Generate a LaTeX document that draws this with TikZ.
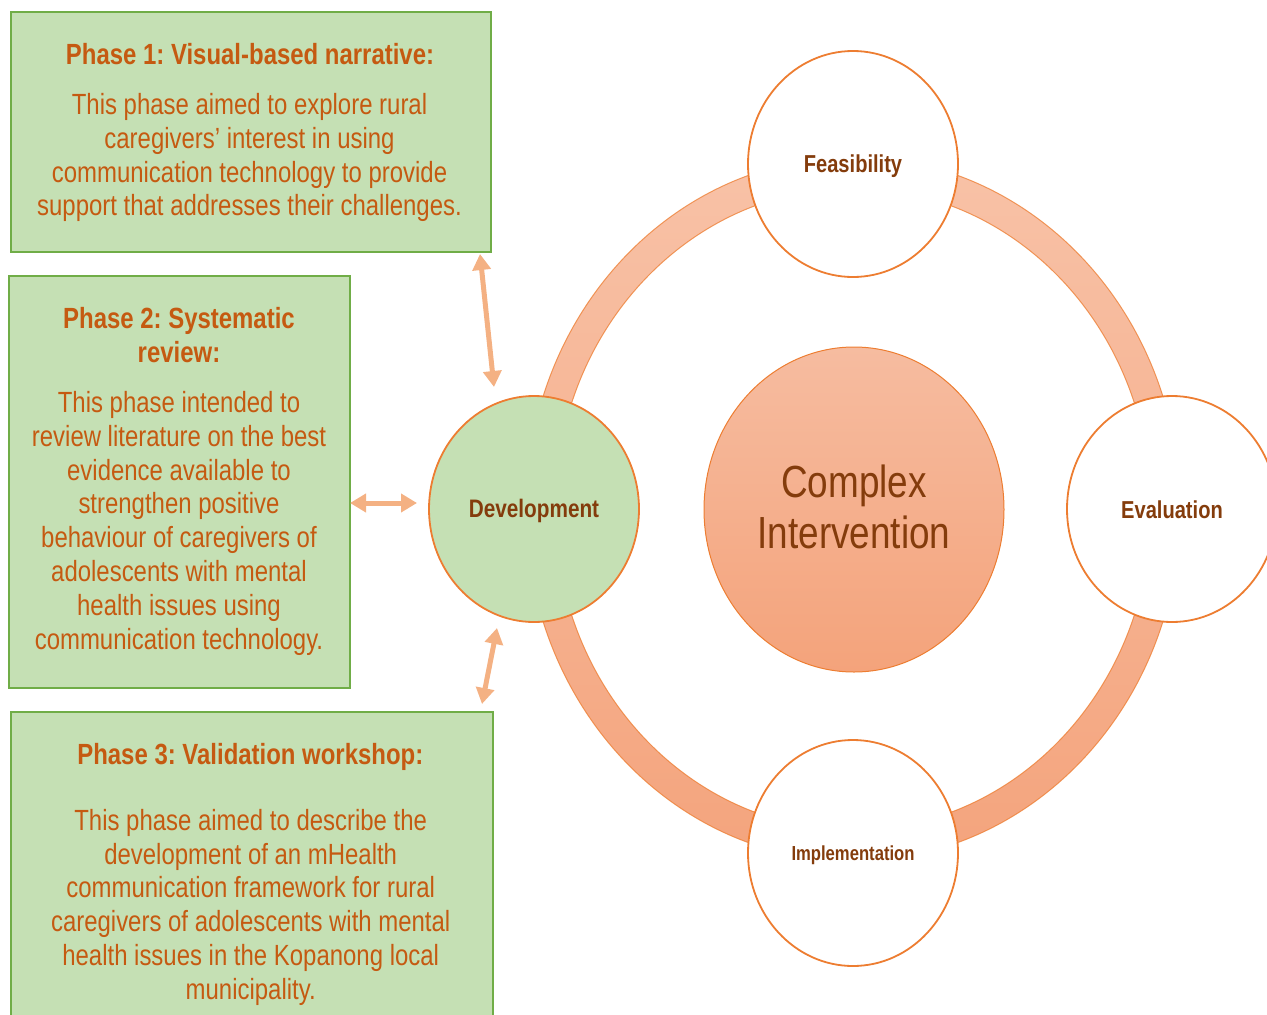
\documentclass[tikz,border=0pt]{standalone}
\usepackage{fontspec}
\setmainfont{Liberation Sans}[FakeStretch=0.82]
\usetikzlibrary{arrows.meta,shapes.geometric,calc}
\definecolor{boxgreen}{HTML}{C5E0B4}
\definecolor{boxedge}{HTML}{70AD47}
\definecolor{txtorange}{HTML}{C55A11}
\definecolor{txtbrown}{HTML}{843C0C}
\definecolor{ringedge}{HTML}{ED7D31}
\definecolor{arrowc}{HTML}{F4B183}
\definecolor{ringtop}{HTML}{F8C2A7}
\definecolor{ringbot}{HTML}{F4A47D}
\definecolor{coretop}{HTML}{F6BCA0}
\definecolor{corebot}{HTML}{F4A37B}
\frenchspacing
\begin{document}
\begin{tikzpicture}[x=1pt,y=-1pt,
  phasebox/.style={draw=boxedge, line width=1.5pt, fill=boxgreen, rectangle, inner sep=0pt, anchor=north west},
  headtxt/.style={text=txtorange, font=\frenchspacing\bfseries\fontsize{29.2}{34}\selectfont, align=center, inner sep=0pt},
  bodytxt/.style={text=txtorange, font=\frenchspacing\fontsize{29.2}{33.8}\selectfont, align=center, inner sep=0pt},
  stage/.style={ellipse, draw=ringedge, line width=1.8pt, fill=white, minimum width=210pt, minimum height=226pt, inner sep=0pt},
  stagelabel/.style={text=txtbrown, inner sep=0pt},
  link/.style={draw=arrowc, line width=5pt, {Triangle[length=16pt,width=18pt]}-{Triangle[length=16pt,width=18pt]}},
]
\path[use as bounding box, clip] (0,0) rectangle (1267,1015);

% phase boxes
\node[phasebox, minimum width=480pt, minimum height=240pt] (box1) at (10,11) {};
\node[phasebox, minimum width=341pt, minimum height=412pt] (box2) at (8,275) {};
\node[phasebox, minimum width=482pt, minimum height=330pt] (box3) at (10,711) {};

\node[headtxt] (h1) at (250,54.3) {Phase 1: Visual-based narrative:};
\node[bodytxt] (b1) at (249.5,157.6) {This phase aimed to explore rural\\caregivers’ interest in using\\communication technology to provide\\support that addresses their challenges.};

\node[headtxt] (h2) at (179,335.5) {Phase 2: Systematic\\review:};
\node[bodytxt] (b2) at (179,523.2) {This phase intended to\\review literature on the best\\evidence available to\\strengthen positive\\behaviour of caregivers of\\adolescents with mental\\health issues using\\communication technology.};

\node[headtxt] (h3) at (250.3,756.5) {Phase 3: Validation workshop:};
\node[bodytxt] (b3) at (250.7,907.2) {This phase aimed to describe the\\development of an mHealth\\communication framework for rural\\caregivers of adolescents with mental\\health issues in the Kopanong local\\municipality.};

% ring
\path[top color=ringtop, bottom color=ringbot, draw=ringedge, draw opacity=0.75, line width=1pt, even odd rule]
  (853,509) ellipse [x radius=327pt, y radius=352pt]
  (853,509) ellipse [x radius=298pt, y radius=321pt];

% stage circles
\node[stage] (feas) at (853,164) {};
\node[stage, fill=boxgreen] (dev) at (534,509) {};
\node[stage] (eval) at (1172,509) {};
\node[stage] (impl) at (853,853) {};
\node[stagelabel, font=\bfseries\fontsize{24.5}{28}\selectfont] (feasl) at ($(feas.center)+(0,2)$) {Feasibility};
\node[stagelabel, font=\bfseries\fontsize{25.3}{29}\selectfont] (devl) at ($(dev.center)+(0,2)$) {Development};
\node[stagelabel, font=\bfseries\fontsize{24.5}{28}\selectfont] (evall) at ($(eval.center)+(0,0.5)$) {Evaluation};
\node[stagelabel, font=\bfseries\fontsize{20.3}{24}\selectfont] (impll) at ($(impl.center)+(0,2)$) {Implementation};

\node[ellipse, minimum width=300pt, minimum height=325pt, inner sep=0pt, top color=coretop, bottom color=corebot, draw=ringedge, line width=1pt] (core) at (854,509.5) {};
\node[stagelabel, font=\fontsize{45}{51}\selectfont, align=center] (corel) at ($(core.center)+(0,-2.5)$) {Complex\\Intervention};

% arrows
\coordinate (a1s) at (480,254);
\coordinate (a1e) at (494,387);
\coordinate (a2s) at (350,503);
\coordinate (a2e) at (417,503);
\coordinate (a3s) at (497,628);
\coordinate (a3e) at (482,704);
\draw[link] (a1s) -- (a1e);
\draw[link] (a2s) -- (a2e);
\draw[link] (a3s) -- (a3e);
\end{tikzpicture}
\end{document}
